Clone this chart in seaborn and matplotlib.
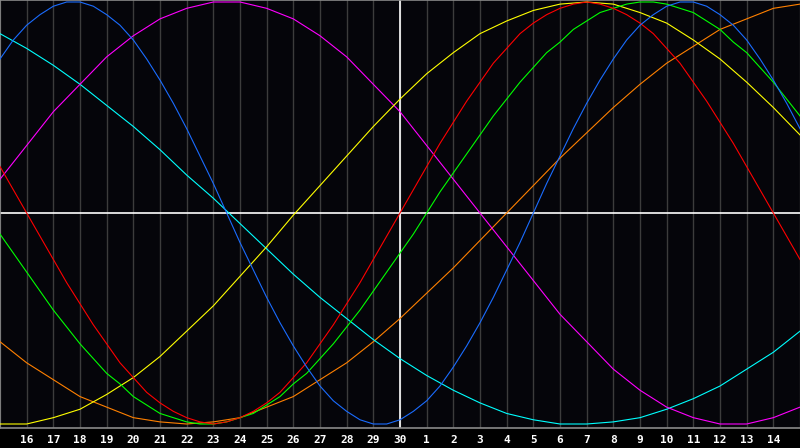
import pandas as pd
import seaborn as sns
import matplotlib.pyplot as plt

# day index 0..30 -> 15th of last month to 15th of this month, today at index 15
day_idx = list(range(31))
half_idx = [i / 2 for i in range(61)]
tick_pos = list(range(1, 30))
tick_labels = [str(d) for d in range(16, 31)] + [str(d) for d in range(1, 15)]
today_idx = 15

# short cycles read at half-day steps
red = [0.22, 0.11, 0.00, -0.11, -0.22, -0.33, -0.43, -0.53, -0.62, -0.71, -0.78,
       -0.85, -0.90, -0.94, -0.97, -0.99, -1.00, -0.99, -0.97, -0.94, -0.90, -0.85,
       -0.78, -0.71, -0.62, -0.53, -0.43, -0.33, -0.22, -0.11, 0.00,
       0.11, 0.22, 0.33, 0.43, 0.53, 0.62, 0.71, 0.78, 0.85, 0.90, 0.94, 0.97, 0.99,
       1.00, 0.99, 0.97, 0.94, 0.90, 0.85, 0.78, 0.71, 0.62, 0.53, 0.43, 0.33, 0.22,
       0.11, 0.00, -0.11, -0.22]
green = [-0.10, -0.19, -0.28, -0.37, -0.46, -0.54, -0.62, -0.69, -0.76, -0.81, -0.87,
         -0.91, -0.95, -0.97, -0.99, -1.00, -1.00, -0.99, -0.97, -0.95, -0.91, -0.87,
         -0.81, -0.76, -0.69, -0.62, -0.54, -0.46, -0.37, -0.28, -0.19, -0.10,
         0.00, 0.10, 0.19, 0.28, 0.37, 0.46, 0.54, 0.62, 0.69, 0.76, 0.81, 0.87, 0.91,
         0.95, 0.97, 0.99, 1.00, 1.00, 0.99, 0.97, 0.95, 0.91, 0.87, 0.81, 0.76, 0.69,
         0.62, 0.54, 0.46]
blue = [0.73, 0.82, 0.89, 0.94, 0.98, 1.00, 1.00, 0.98, 0.94, 0.89, 0.82, 0.73, 0.63,
        0.52, 0.40, 0.27, 0.14, 0.00, -0.14, -0.27, -0.40, -0.52, -0.63, -0.73, -0.82,
        -0.89, -0.94, -0.98, -1.00, -1.00, -0.98, -0.94, -0.89, -0.82, -0.73, -0.63,
        -0.52, -0.40, -0.27, -0.14, 0.00, 0.14, 0.27, 0.40, 0.52, 0.63, 0.73, 0.82,
        0.89, 0.94, 0.98, 1.00, 1.00, 0.98, 0.94, 0.89, 0.82, 0.73, 0.63, 0.52, 0.40]

# long cycles read once a day
cyan = [0.85, 0.78, 0.70, 0.61, 0.51, 0.41, 0.30, 0.18, 0.07, -0.05, -0.17, -0.29,
        -0.40, -0.50, -0.60, -0.69, -0.77, -0.84, -0.90, -0.95, -0.98, -1.00, -1.00,
        -0.99, -0.97, -0.93, -0.88, -0.82, -0.74, -0.66, -0.56]
magenta = [0.16, 0.32, 0.48, 0.61, 0.74, 0.84, 0.92, 0.97, 1.00, 1.00, 0.97, 0.92,
           0.84, 0.74, 0.61, 0.48, 0.32, 0.16, 0.00, -0.16, -0.32, -0.48, -0.61,
           -0.74, -0.84, -0.92, -0.97, -1.00, -1.00, -0.97, -0.92]
yellow = [-1.00, -1.00, -0.97, -0.93, -0.86, -0.78, -0.68, -0.56, -0.44, -0.30, -0.16,
          -0.01, 0.13, 0.27, 0.41, 0.54, 0.66, 0.76, 0.85, 0.91, 0.96, 0.99, 1.00,
          0.99, 0.95, 0.90, 0.82, 0.73, 0.62, 0.50, 0.37]
orange = [-0.61, -0.71, -0.79, -0.87, -0.92, -0.97, -0.99, -1.00, -0.99, -0.97, -0.92,
          -0.87, -0.79, -0.71, -0.61, -0.50, -0.38, -0.26, -0.13, 0.00, 0.13, 0.26,
          0.38, 0.50, 0.61, 0.71, 0.79, 0.87, 0.92, 0.97, 0.99]

series = {"orange": (day_idx, orange), "cyan": (day_idx, cyan),
          "magenta": (day_idx, magenta), "yellow": (day_idx, yellow),
          "green": (half_idx, green), "red": (half_idx, red), "blue": (half_idx, blue)}
colors = {"red": "#ff0000", "green": "#00ff00", "blue": "#1a6cff", "cyan": "#00ffff",
          "magenta": "#ff00ff", "yellow": "#ffff00", "orange": "#ff8000"}

rows = []
for name, (xs, vals) in series.items():
    for d, v in zip(xs, vals):
        rows.append({"day": d, "value": v, "cycle": name})
df = pd.DataFrame(rows)

fig = plt.figure(figsize=(8, 4.48), dpi=100, facecolor="#000000")
ax = fig.add_axes([0, 20 / 448, 1, 428 / 448])
ax.set_facecolor("#05050a")

for d in day_idx:
    ax.axvline(d, color="#3c3c3c", lw=1.0, zorder=1)
ax.axvline(today_idx, color="white", lw=1.2, zorder=2)
ax.axhline(0, color="white", lw=1.2, zorder=2)

sns.lineplot(data=df, x="day", y="value", hue="cycle", palette=colors,
             hue_order=list(series.keys()), legend=False, linewidth=0.8, ax=ax,
             zorder=3)

ax.set_xlim(0, 30)
ax.set_ylim(-215 / 211, 213 / 211)
ax.set_xticks(tick_pos)
ax.set_xticklabels(tick_labels, color="white", fontsize=8, fontweight="bold",
                   family="DejaVu Sans Mono")
ax.tick_params(axis="x", length=0, pad=5)
ax.set_yticks([])
ax.set_xlabel("")
ax.set_ylabel("")
for side in ["left", "top", "bottom"]:
    ax.spines[side].set_color("#8a8a8a")
    ax.spines[side].set_linewidth(1.2)
ax.spines["right"].set_visible(False)

fig.savefig("out.png", dpi=100, facecolor=fig.get_facecolor())
